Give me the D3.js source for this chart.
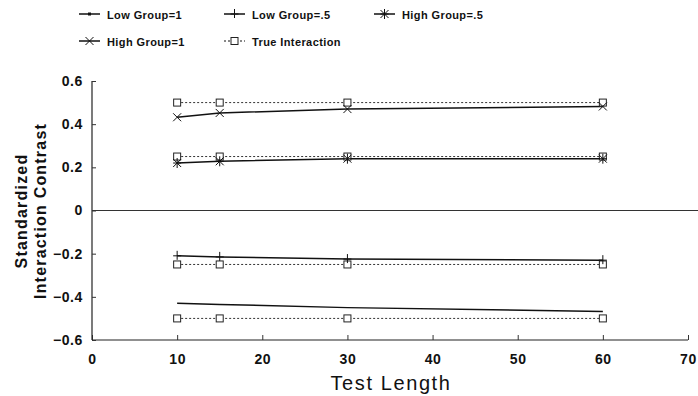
<!DOCTYPE html>
<html><head><meta charset="utf-8">
<script src="https://cdn.jsdelivr.net/npm/d3@7"></script>
<style>body{margin:0;background:#fff}svg{display:block}text{font-family:"Liberation Sans",Arial,sans-serif;fill:#111}</style>
</head><body><svg id="c" width="698" height="396"></svg>
<script>
const testLength = [10, 15, 30, 60];
const lowGroup1 = [-0.43, -0.435, -0.45, -0.468];
const lowGroup05 = [-0.21, -0.215, -0.225, -0.23];
const highGroup05 = [0.22, 0.228, 0.24, 0.24];
const highGroup1 = [0.432, 0.452, 0.47, 0.482];
const trueInteraction = [[0.5, 0.5, 0.5, 0.5], [0.25, 0.25, 0.25, 0.25], [-0.25, -0.25, -0.25, -0.25], [-0.5, -0.5, -0.5, -0.5]];
const xTicks = [0, 10, 20, 30, 40, 50, 60, 70];
const yTicks = [-0.6, -0.4, -0.2, 0, 0.2, 0.4, 0.6];
const legendLabels = ["Low Group=1", "Low Group=.5", "High Group=.5", "High Group=1", "True Interaction"];

const svg = d3.select("#c");
const x = d3.scaleLinear().domain([0, 70]).range([92, 688]);
const y = d3.scaleLinear().domain([-0.6, 0.6]).range([340, 81]);

// axes
const gx = svg.append("g").attr("transform", `translate(0,${y(-0.6)})`)
  .call(d3.axisBottom(x).tickValues(xTicks).tickSize(-5).tickPadding(12).tickFormat(d3.format("d")));
gx.select(".domain").attr("d", `M${x(0)},0H${x(70)}`).attr("stroke", "#222").attr("stroke-width", 1.2);
gx.selectAll("text").attr("font-size", 14).attr("font-weight", "bold").attr("letter-spacing", 0.6).attr("dy", "0.85em");
const gy = svg.append("g").attr("transform", `translate(${x(0)},0)`)
  .call(d3.axisLeft(y).tickValues(yTicks).tickSize(-4).tickPadding(9).tickFormat(d => d === 0 ? "0" : d3.format(".1f")(d)));
gy.select(".domain").attr("d", `M0,${y(0.6)}V${y(-0.6)}`).attr("stroke", "#222").attr("stroke-width", 1.2);
gy.selectAll("text").attr("font-size", 14).attr("font-weight", "bold").attr("letter-spacing", 0.6);
svg.selectAll(".tick line").attr("stroke", "#333");

// zero line
svg.append("line").attr("x1", x(0)).attr("x2", 698).attr("y1", y(0)).attr("y2", y(0)).attr("stroke", "#333").attr("stroke-width", 1);

// titles
svg.append("text").attr("x", 391).attr("y", 390).attr("text-anchor", "middle").attr("font-size", 20).attr("letter-spacing", 1.6).text("Test Length");
const yt = svg.append("text").attr("transform", "translate(0,211) rotate(-90)").attr("text-anchor", "middle").attr("font-size", 16).attr("font-weight", "bold").attr("letter-spacing", 1.2);
yt.append("tspan").attr("x", 0).attr("y", 27).text("Standardized");
yt.append("tspan").attr("x", 0).attr("y", 46).text("Interaction Contrast");

const line = d3.line().x((d, i) => x(testLength[i])).y(d => y(d));

function marker(g, type, cx, cy) {
  const s = 4;
  if (type === "dot") g.append("rect").attr("x", cx - 1.5).attr("y", cy - 1.5).attr("width", 3).attr("height", 3).attr("fill", "#111");
  else if (type === "plus") g.append("path").attr("d", `M${cx-s},${cy}H${cx+s}M${cx},${cy-s-1}V${cy+s}`).attr("stroke", "#111").attr("stroke-width", 1).attr("fill", "none");
  else if (type === "x") g.append("path").attr("d", `M${cx-s},${cy-s}L${cx+s},${cy+s}M${cx-s},${cy+s}L${cx+s},${cy-s}`).attr("stroke", "#111").attr("stroke-width", 1).attr("fill", "none");
  else if (type === "star") g.append("path").attr("d", `M${cx-s},${cy-s}L${cx+s},${cy+s}M${cx-s},${cy+s}L${cx+s},${cy-s}M${cx},${cy-s-1}V${cy+s+1}M${cx-s},${cy}H${cx+s}`).attr("stroke", "#111").attr("stroke-width", 1).attr("fill", "none");
  else if (type === "square") g.append("rect").attr("x", cx - 3.5).attr("y", cy - 3.5).attr("width", 7).attr("height", 7).attr("fill", "#fff").attr("stroke", "#222").attr("stroke-width", 1);
}

const plot = svg.append("g");
trueInteraction.forEach(vals => {
  plot.append("path").attr("d", line(vals)).attr("fill", "none").attr("stroke", "#333").attr("stroke-width", 1).attr("stroke-dasharray", "2,2");
});
const series = [
  {vals: lowGroup1, m: "dot"},
  {vals: lowGroup05, m: "plus"},
  {vals: highGroup05, m: "star"},
  {vals: highGroup1, m: "x"}
];
series.forEach(s => {
  plot.append("path").attr("d", line(s.vals)).attr("fill", "none").attr("stroke", "#111").attr("stroke-width", 1.5);
});
trueInteraction.forEach(vals => vals.forEach((v, i) => marker(plot, "square", x(testLength[i]), y(v))));
series.forEach(s => s.vals.forEach((v, i) => { if (s.m !== "dot") marker(plot, s.m, x(testLength[i]), y(v)); }));

// legend
const leg = [
  {lx: 79, ly: 14, m: "dot", dash: null},
  {lx: 224, ly: 14, m: "plus", dash: null},
  {lx: 374, ly: 14, m: "star", dash: null},
  {lx: 79, ly: 41, m: "x", dash: null},
  {lx: 224, ly: 41, m: "square", dash: "2,2"}
];
leg.forEach((l, i) => {
  const g = svg.append("g");
  g.append("line").attr("x1", l.lx).attr("x2", l.lx + 21).attr("y1", l.ly).attr("y2", l.ly)
    .attr("stroke", "#111").attr("stroke-width", l.dash ? 1 : 1.5).attr("stroke-dasharray", l.dash);
  marker(g, l.m, l.lx + 10.5, l.ly);
  g.append("text").attr("x", l.lx + 28).attr("y", l.ly + 4.5).attr("font-size", 11).attr("font-weight", "bold").attr("letter-spacing", 0.4).text(legendLabels[i]);
});
</script></body></html>
